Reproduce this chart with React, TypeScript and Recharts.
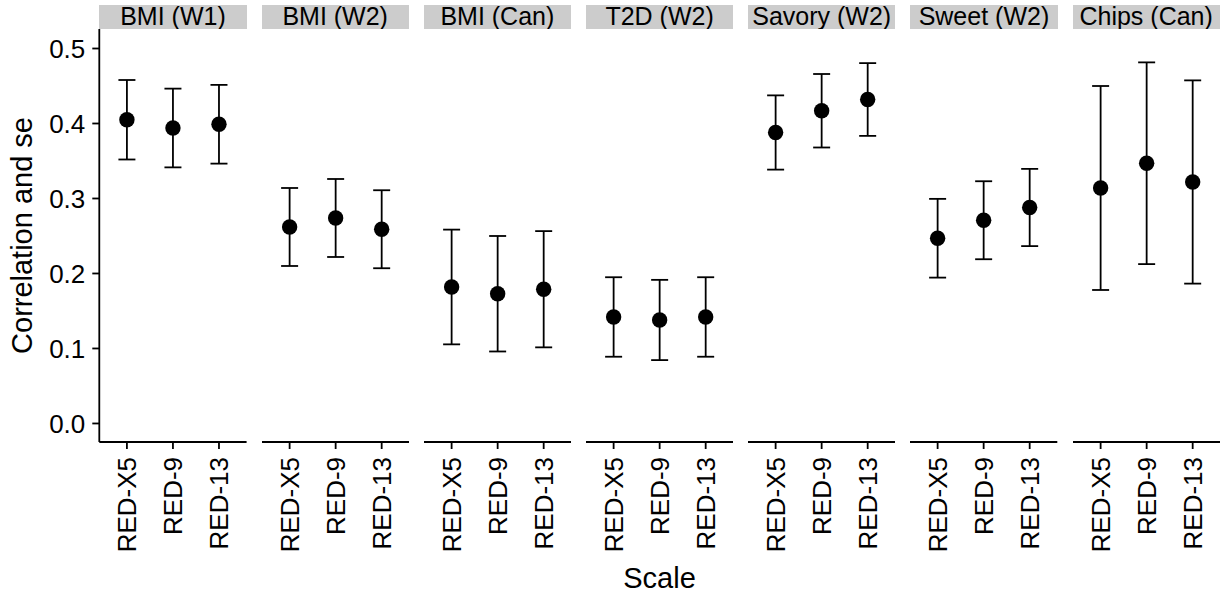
import React from "react";
import { ScatterChart, Scatter, XAxis, YAxis, ErrorBar, Label } from "recharts";

// facet strips and the three scales shown in each facet
const facets = ["BMI (W1)", "BMI (W2)", "BMI (Can)", "T2D (W2)", "Savory (W2)", "Sweet (W2)", "Chips (Can)"];
const scales = ["RED-X5", "RED-9", "RED-13"];

// correlation estimates, one array per facet
const corrBmiW1 = [0.405, 0.394, 0.399];
const corrBmiW2 = [0.262, 0.274, 0.259];
const corrBmiCan = [0.182, 0.173, 0.179];
const corrT2dW2 = [0.142, 0.138, 0.142];
const corrSavoryW2 = [0.388, 0.417, 0.432];
const corrSweetW2 = [0.247, 0.271, 0.288];
const corrChipsCan = [0.314, 0.347, 0.322];

// standard errors (half the bar length)
const seBmiW1 = [0.053, 0.0525, 0.0525];
const seBmiW2 = [0.052, 0.052, 0.052];
const seBmiCan = [0.0765, 0.077, 0.0775];
const seT2dW2 = [0.053, 0.0535, 0.053];
const seSavoryW2 = [0.0495, 0.049, 0.0485];
const seSweetW2 = [0.0525, 0.052, 0.0515];
const seChipsCan = [0.136, 0.1345, 0.1355];

const yTicks = [0, 0.1, 0.2, 0.3, 0.4, 0.5];

const corrByFacet = [corrBmiW1, corrBmiW2, corrBmiCan, corrT2dW2, corrSavoryW2, corrSweetW2, corrChipsCan];
const seByFacet = [seBmiW1, seBmiW2, seBmiCan, seT2dW2, seSavoryW2, seSweetW2, seChipsCan];

// layout
const AXIS_W = 99.3;
const PANEL_W = 147.3;
const GAP = 14.9;
const STRIP_TOP = 5;
const STRIP_H = 24;
const PLOT_TOP = 29;
const PLOT_H = 413;
const XAXIS_H = 120;
const Y_MIN = -0.0247;
const Y_MAX = 0.526;
const FONT = '"Liberation Sans", Arial, Helvetica, sans-serif';
const LINE_W = 1.8;

function RotTick(props: any) {
  const { x, y, payload } = props;
  return (
    <g transform={`translate(${x},${y})`}>
      <text transform="rotate(-90)" textAnchor="end" dy="0.35em" fontSize={26} fill="#000" fontFamily={FONT}>
        {scales[payload.value]}
      </text>
    </g>
  );
}

function Dot(props: any) {
  return <circle cx={props.cx} cy={props.cy} r={7.7} fill="#000" />;
}

function Panel({ idx }: { idx: number }) {
  const first = idx === 0;
  const data = scales.map((s, j) => ({ pos: j, corr: corrByFacet[idx][j], se: seByFacet[idx][j] }));
  return (
    <ScatterChart
      width={(first ? AXIS_W : 0) + PANEL_W}
      height={PLOT_H + XAXIS_H}
      margin={{ top: 0, right: 0, bottom: 0, left: 0 }}
    >
      <XAxis
        type="number" dataKey="pos" domain={[-0.6, 2.6]} ticks={[0, 1, 2]} interval={0}
        allowDataOverflow height={XAXIS_H} tick={<RotTick />} tickSize={7} tickMargin={8}
        axisLine={{ stroke: "#000", strokeWidth: LINE_W }} tickLine={{ stroke: "#000", strokeWidth: LINE_W }}
      />
      <YAxis
        type="number" dataKey="corr" domain={[Y_MIN, Y_MAX]} ticks={yTicks} allowDataOverflow
        hide={!first} width={AXIS_W} tickSize={7} tickMargin={7}
        tickFormatter={(v: number) => v.toFixed(1)}
        tick={{ fill: "#000", fontSize: 26, fontFamily: FONT }}
        axisLine={{ stroke: "#000", strokeWidth: LINE_W }} tickLine={{ stroke: "#000", strokeWidth: LINE_W }}
      >
        {first && (
          <Label value="Correlation and se" angle={-90} position="insideLeft" offset={22}
            style={{ textAnchor: "middle" }} fill="#000" fontSize={29} fontFamily={FONT} />
        )}
      </YAxis>
      <Scatter data={data} dataKey="corr" isAnimationActive={false} shape={<Dot />}>
        <ErrorBar dataKey="se" direction="y" width={8.5} stroke="#000" strokeWidth={LINE_W} isAnimationActive={false} />
      </Scatter>
    </ScatterChart>
  );
}

export default function App() {
  const step = PANEL_W + GAP;
  return (
    <div style={{ position: "absolute", left: 0, top: 0, width: 1227, height: 598, background: "#fff", fontFamily: FONT }}>
      {facets.map((f, i) => (
        <div key={f} style={{
          position: "absolute", left: AXIS_W + i * step, top: STRIP_TOP, width: PANEL_W, height: STRIP_H,
          background: "#cccccc", overflow: "hidden", textAlign: "center", fontSize: 25, lineHeight: "21px",
          paddingTop: 1, boxSizing: "border-box", color: "#000", whiteSpace: "nowrap",
        }}>{f}</div>
      ))}
      {facets.map((f, i) => (
        <div key={f + "-p"} style={{ position: "absolute", left: i === 0 ? 0 : AXIS_W + i * step, top: PLOT_TOP }}>
          <Panel idx={i} />
        </div>
      ))}
      <div style={{
        position: "absolute", left: AXIS_W, width: facets.length * step - GAP, top: 561,
        textAlign: "center", fontSize: 29, lineHeight: "34px", color: "#000",
      }}>Scale</div>
    </div>
  );
}
